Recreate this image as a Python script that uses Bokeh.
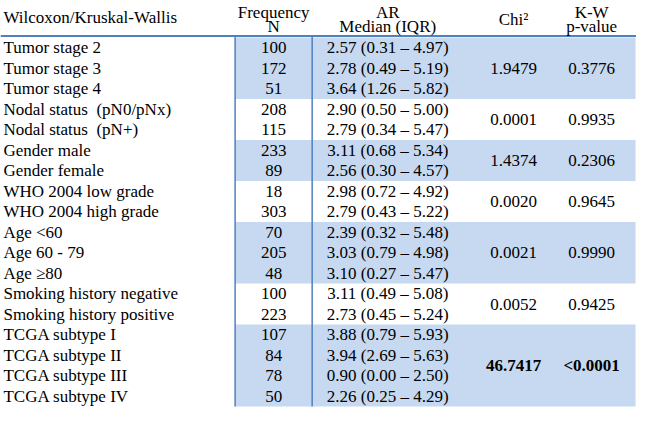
from bokeh.plotting import figure
from bokeh.models import Range1d, ColumnDataSource
from bokeh.core.properties import value
from bokeh.embed import file_html
from bokeh.resources import INLINE

# ---- data ----
row_labels = [
    "Tumor stage 2", "Tumor stage 3", "Tumor stage 4",
    "Nodal status \u00a0(pN0/pNx)", "Nodal status \u00a0(pN+)",
    "Gender male", "Gender female",
    "WHO 2004 low grade", "WHO 2004 high grade",
    "Age <60", "Age 60 - 79", "Age \u226580",
    "Smoking history negative", "Smoking history positive",
    "TCGA subtype I", "TCGA subtype II", "TCGA subtype III", "TCGA subtype IV",
]
frequency = [100, 172, 51, 208, 115, 233, 89, 18, 303, 70, 205, 48, 100, 223, 107, 84, 78, 50]
ar_median = [2.57, 2.78, 3.64, 2.90, 2.79, 3.11, 2.56, 2.98, 2.79, 2.39, 3.03, 3.10, 3.11, 2.73, 3.88, 3.94, 0.90, 2.26]
iqr_low = [0.31, 0.49, 1.26, 0.50, 0.34, 0.68, 0.30, 0.72, 0.43, 0.32, 0.79, 0.27, 0.49, 0.45, 0.79, 2.69, 0.00, 0.25]
iqr_high = [4.97, 5.19, 5.82, 5.00, 5.47, 5.34, 4.57, 4.92, 5.22, 5.48, 4.98, 5.47, 5.08, 5.24, 5.93, 5.63, 2.50, 4.29]
group_sizes = [3, 2, 2, 2, 3, 2, 4]
group_chi2 = ["1.9479", "0.0001", "1.4374", "0.0020", "0.0021", "0.0052", "46.7417"]
group_pvalue = ["0.3776", "0.9935", "0.2306", "0.9645", "0.9990", "0.9425", "<0.0001"]
group_bold = [False, False, False, False, False, False, True]
header_first = "Wilcoxon/Kruskal-Wallis"

# ---- layout (reference pixel coordinates) ----
W, H = 652, 425
row_top0 = 38.5
row_h = 21.3
x_first = 3
x_freq = 280
x_ar = 397
x_chi = 526
x_kw = 606
shade_left, shade_right = 240.5, 651
line_color = "#4f81bd"
shade_color = "#c6d9f0"
font = value("Liberation Serif")
fs = "17px"

p = figure(width=636, height=409, output_backend="svg", toolbar_location=None,
           x_range=Range1d(0, W), y_range=Range1d(H, 0),
           min_border=0, outline_line_color=None, background_fill_color="white",
           border_fill_color="white")
p.axis.visible = False
p.grid.visible = False

# group shading
n = len(row_labels)
start = 0
gl, gr, gt, gb = [], [], [], []
centers = []
for gi, size in enumerate(group_sizes):
    top = row_top0 + start * row_h
    bottom = row_top0 + (start + size) * row_h
    centers.append((top + bottom) / 2)
    if gi % 2 == 0:
        gl.append(shade_left); gr.append(shade_right); gt.append(top); gb.append(bottom)
    start += size
p.quad(left=gl, right=gr, top=gt, bottom=gb, fill_color=shade_color, line_color=None)

# lines
table_bottom = row_top0 + n * row_h
p.segment(x0=[0], y0=[37], x1=[652], y1=[37], line_color=line_color, line_width=2)
p.segment(x0=[240.5, 319.5], y0=[37, 37], x1=[240.5, 319.5], y1=[table_bottom, table_bottom],
          line_color=line_color, line_width=1.5)

def txt(xs, ys, texts, align="center", style="normal"):
    src = ColumnDataSource(dict(x=xs, y=ys, t=texts))
    p.text(x="x", y="y", text="t", source=src, text_align=align, text_baseline="middle",
           text_font=font, text_font_size=fs, text_color="#000000", text_font_style=style)

# header
txt([x_first], [18], [header_first], align="left")
txt([x_freq, x_freq], [12, 27], ["Frequency", "N"])
txt([x_ar, x_ar], [12, 27], ["AR", "Median (IQR)"])
txt([x_chi], [19.5], ["Chi\u00b2"])
txt([x_kw, x_kw], [12, 27], ["K-W", "p-value"])

# rows
ys = [row_top0 + (i + 0.5) * row_h for i in range(n)]
txt([x_first] * n, ys, row_labels, align="left")
txt([x_freq] * n, ys, [str(v) for v in frequency])
ar_text = ["%.2f (%.2f \u2013 %.2f)" % (m, lo, hi) for m, lo, hi in zip(ar_median, iqr_low, iqr_high)]
txt([x_ar] * n, ys, ar_text)

# group stats
for c, chi, pv, b in zip(centers, group_chi2, group_pvalue, group_bold):
    st = "bold" if b else "normal"
    txt([x_chi], [c], [chi], style=st)
    txt([x_kw], [c], [pv], style=st)

open("out.html", "w").write(file_html(p, INLINE))
